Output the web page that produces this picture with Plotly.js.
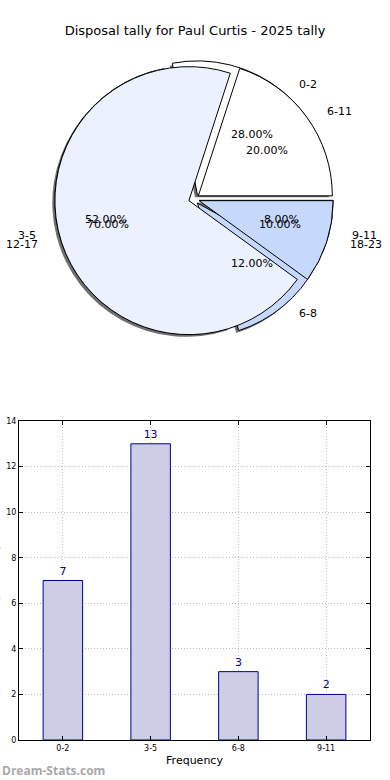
<!DOCTYPE html>
<html>
<head>
<meta charset="utf-8">
<script src="https://cdn.plot.ly/plotly-3.0.1.min.js"></script>
<style>html,body{margin:0;padding:0;background:#fff;}#chart{width:390px;height:780px;}</style>
</head>
<body>
<div id="chart"></div>
<script>
// ---- data ----
const chartTitle = 'Disposal tally for Paul Curtis - 2025 tally';
const pie1Labels = ['0-2', '3-5', '6-8', '9-11'];
const pie1Values = [7, 13, 3, 2];
const pie2Labels = ['6-11', '12-17', '18-23'];
const pie2Values = [2, 7, 1];
const barCategories = ['0-2', '3-5', '6-8', '9-11'];
const barValues = [7, 13, 3, 2];
const xAxisTitle = 'Frequency';
const yAxisTitle = 'Disposal Tally';
const watermark = 'Dream-Stats.com';

// ---- styles ----
const W = 390, H = 780;
const FONT = 'DejaVu Sans, Liberation Sans, sans-serif';
const sliceColors = ['#ffffff', '#ebf1fd', '#c6d9fd', '#a9c4f7'];
const PULL = 0.04;
const R = 134, CX = 194, CY = 199;
const TEXT_RX = 142, TEXT_RY = 130; // text placement radii

function domainFor(cx, cy) {
  const half = R * (1 + PULL);
  return {x: [(cx - half) / W, (cx + half) / W], y: [1 - (cy + half) / H, 1 - (cy - half) / H]};
}
function rev(a) { return a.slice().reverse(); }

function pieTrace(labels, values, colors, cx, cy, lineW) {
  // clockwise from 3 o'clock with reversed order == matplotlib counterclockwise from 3 o'clock
  const cols = colors.slice(0, values.length);
  return {
    type: 'pie', labels: rev(labels), values: rev(values), sort: false,
    direction: 'clockwise', rotation: 90, pull: PULL,
    marker: {colors: rev(cols), line: {color: lineW ? '#000' : 'rgba(0,0,0,0)', width: lineW}},
    textinfo: 'none', hoverinfo: 'skip', showlegend: false,
    domain: domainFor(cx, cy)
  };
}

const annotations = [];
function addPieText(labels, values) {
  const total = values.reduce((a, b) => a + b, 0);
  let start = 0;
  values.forEach((v, i) => {
    const span = 360 * v / total;
    const mid = (start + span / 2) * Math.PI / 180;
    const c = Math.cos(mid), s = Math.sin(mid);
    const ox = CX + PULL * R * c, oy = CY - PULL * R * s;
    annotations.push({
      xref: 'paper', yref: 'paper', x: (ox + 1.1 * TEXT_RX * c) / W, y: 1 - (oy - 1.1 * TEXT_RY * s) / H,
      text: labels[i], showarrow: false, xanchor: c >= 0 ? 'left' : 'right', yanchor: 'middle',
      font: {family: FONT, size: 11, color: '#000'}
    });
    annotations.push({
      xref: 'paper', yref: 'paper', x: (ox + 0.6 * TEXT_RX * c) / W, y: 1 - (oy - 0.6 * TEXT_RY * s) / H,
      text: (100 * v / total).toFixed(2) + '%', showarrow: false, xanchor: 'center', yanchor: 'middle',
      font: {family: FONT, size: 11, color: '#000'}
    });
    start += span;
  });
}
addPieText(pie1Labels, pie1Values);
addPieText(pie2Labels, pie2Values);

const shadowColors = pie1Values.map(() => 'rgba(50,50,50,0.7)');
const traces = [
  pieTrace(pie1Labels, pie1Values, shadowColors, CX - 2.5, CY + 2.5, 0),
  pieTrace(pie1Labels, pie1Values, sliceColors, CX, CY, 1),
  pieTrace(pie2Labels, pie2Values, sliceColors, CX, CY, 1),
  {
    type: 'bar', x: barCategories, y: barValues, width: 0.45,
    marker: {color: '#cdcde6', line: {color: '#00008b', width: 1}},
    text: barValues.map(String), textposition: 'outside', cliponaxis: false,
    textfont: {family: FONT, size: 11, color: '#00008b'},
    hoverinfo: 'skip', showlegend: false, xaxis: 'x', yaxis: 'y'
  }
];

annotations.push({
  xref: 'paper', yref: 'paper', x: -6 / W, y: 1 - 580 / H, text: yAxisTitle, textangle: -90,
  showarrow: false, xanchor: 'center', yanchor: 'middle', font: {family: FONT, size: 11, color: '#000'}
});
annotations.push({
  xref: 'paper', yref: 'paper', x: 0, y: 1 - 770 / H, text: '<b>' + watermark + '</b>',
  showarrow: false, xanchor: 'left', yanchor: 'middle', font: {family: 'Open Sans, DejaVu Sans, sans-serif', size: 12, color: '#a8a8a8'}
});

const axisCommon = {
  showline: true, linecolor: '#000', linewidth: 1, mirror: 'allticks',
  ticks: 'inside', ticklen: 4, tickcolor: '#000',
  showgrid: true, gridcolor: '#bdbdbd', griddash: '1px,2px', gridwidth: 1,
  zeroline: false, tickfont: {family: FONT, size: 8, color: '#000'}, fixedrange: true
};

const layout = {
  width: W, height: H, margin: {l: 0, r: 0, t: 0, b: 0},
  paper_bgcolor: '#fff', plot_bgcolor: '#fff', showlegend: false,
  title: {text: chartTitle, x: 0.5, xanchor: 'center', y: 1 - 30 / H, yanchor: 'middle',
          font: {family: FONT, size: 13, color: '#000'}},
  xaxis: Object.assign({}, axisCommon, {
    domain: [19 / W, 370 / W], range: [-0.5, 3.5], type: 'category',
    title: {text: xAxisTitle, font: {family: FONT, size: 11, color: '#000'}, standoff: 4}
  }),
  yaxis: Object.assign({}, axisCommon, {
    domain: [1 - 740 / H, 1 - 421 / H], range: [0, 14], dtick: 2, tick0: 0
  }),
  annotations: annotations
};

Plotly.newPlot('chart', traces, layout, {staticPlot: true, displayModeBar: false});
</script>
</body>
</html>
